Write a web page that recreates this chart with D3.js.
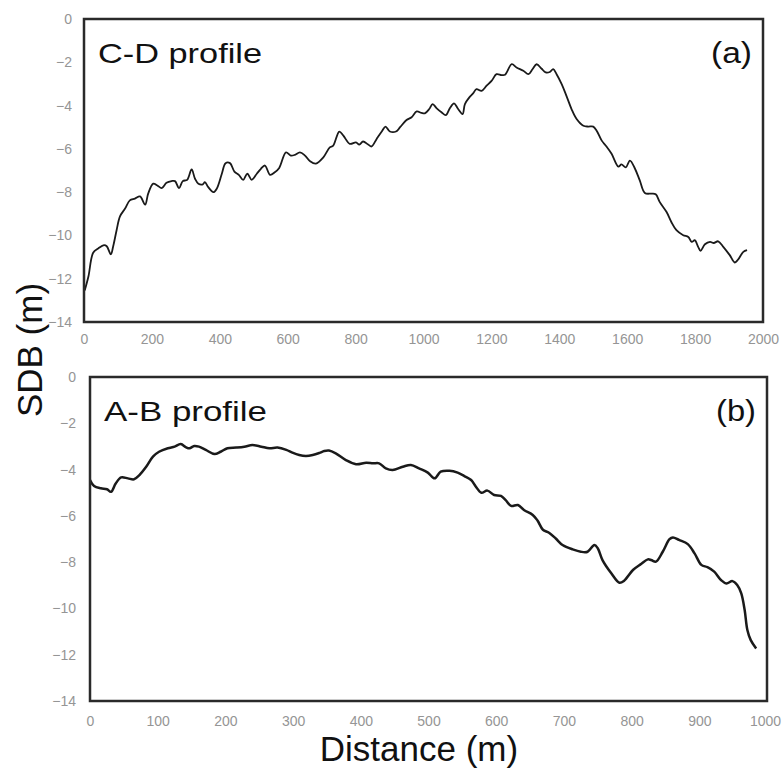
<!DOCTYPE html>
<html>
<head>
<meta charset="utf-8">
<script src="https://cdn.jsdelivr.net/npm/d3@7"></script>
<style>
  html, body { margin: 0; padding: 0; background: #fff; }
  svg { display: block; }
</style>
</head>
<body>
<svg id="chart" width="782" height="770"></svg>
<script>
// C-D profile: distance along the transect (m) and satellite-derived bathymetry (m)
const cdDistance = [2,13,27,42,59,67,79,86,96,106,121,135,150,165,180,189,204,216,229,243,258,268,280,291,304,317,327,337,350,356,366,381,391,406,417,430,443,456,469,481,494,509,521,533,548,562,575,595,609,621,636,651,666,683,705,724,734,752,764,783,801,811,822,837,847,862,877,888,901,919,931,950,965,980,994,1004,1017,1027,1039,1053,1066,1078,1090,1102,1115,1122,1135,1146,1156,1171,1186,1201,1215,1230,1240,1260,1274,1294,1309,1321,1333,1348,1360,1372,1382,1392,1407,1421,1436,1451,1471,1485,1500,1510,1525,1539,1554,1574,1583,1596,1608,1623,1637,1652,1672,1684,1696,1716,1730,1745,1765,1780,1790,1799,1809,1816,1829,1844,1855,1868,1883,1902,1917,1927,1942,1953];
const cdDepth = [-12.55,-11.9,-10.8,-10.6,-10.45,-10.5,-10.87,-10.5,-9.76,-9.12,-8.76,-8.38,-8.3,-8.2,-8.58,-8.07,-7.61,-7.69,-7.81,-7.57,-7.49,-7.49,-7.81,-7.49,-7.43,-6.95,-7.38,-7.61,-7.64,-7.54,-7.77,-8.0,-7.84,-7.15,-6.66,-6.66,-7.05,-7.2,-7.43,-7.15,-7.43,-7.15,-6.92,-6.77,-7.2,-7.08,-6.88,-6.16,-6.31,-6.28,-6.16,-6.31,-6.57,-6.68,-6.39,-5.93,-5.85,-5.2,-5.39,-5.77,-5.7,-5.8,-5.66,-5.8,-5.89,-5.54,-5.2,-4.97,-5.2,-5.2,-5.0,-4.67,-4.54,-4.27,-4.34,-4.36,-4.16,-3.93,-4.13,-4.31,-4.44,-4.11,-3.9,-4.16,-4.39,-3.93,-3.62,-3.44,-3.24,-3.32,-3.08,-2.85,-2.55,-2.59,-2.58,-2.09,-2.24,-2.39,-2.55,-2.32,-2.09,-2.3,-2.47,-2.45,-2.32,-2.55,-3.01,-3.55,-4.16,-4.62,-4.93,-4.97,-4.97,-5.16,-5.62,-5.89,-6.23,-6.82,-6.72,-6.85,-6.54,-6.92,-7.46,-8.04,-8.07,-8.1,-8.46,-8.92,-9.38,-9.76,-9.99,-10.07,-10.3,-10.22,-10.53,-10.71,-10.41,-10.3,-10.35,-10.27,-10.53,-10.91,-11.25,-11.11,-10.76,-10.68];

// A-B profile
const abDistance = [0,6,16,25,31,38,46,56,65,73,83,93,102,115,125,134,142,147,154,161,171,184,193,203,216,228,240,253,265,277,290,299,309,319,329,339,346,353,363,378,393,408,418,427,437,447,462,474,486,499,509,518,531,543,553,563,570,578,587,597,607,614,622,632,641,654,661,669,678,688,698,713,725,735,745,750,757,770,782,789,802,814,824,829,836,846,856,861,870,883,893,903,912,922,932,940,949,956,962,967,971,976,984];
const abDepth = [-4.45,-4.71,-4.81,-4.85,-4.96,-4.6,-4.34,-4.38,-4.42,-4.24,-3.88,-3.44,-3.23,-3.08,-3.01,-2.9,-3.04,-3.08,-2.98,-3.01,-3.15,-3.33,-3.23,-3.08,-3.05,-3.01,-2.94,-3.01,-3.08,-3.05,-3.15,-3.27,-3.37,-3.41,-3.37,-3.28,-3.2,-3.18,-3.3,-3.59,-3.77,-3.7,-3.73,-3.73,-3.95,-4.02,-3.88,-3.8,-3.95,-4.13,-4.38,-4.09,-4.05,-4.13,-4.28,-4.45,-4.74,-5.0,-4.91,-5.1,-5.14,-5.32,-5.57,-5.53,-5.75,-5.96,-6.2,-6.6,-6.73,-6.98,-7.26,-7.45,-7.55,-7.55,-7.26,-7.4,-7.91,-8.48,-8.89,-8.8,-8.34,-8.08,-7.88,-7.91,-7.98,-7.55,-7.01,-6.93,-7.04,-7.22,-7.62,-8.12,-8.22,-8.41,-8.77,-8.92,-8.82,-8.99,-9.35,-10.07,-10.93,-11.37,-11.73];

// Axis ticks
const depthTicks = [0, -2, -4, -6, -8, -10, -12, -14];
const cdDistanceTicks = [0, 200, 400, 600, 800, 1000, 1200, 1400, 1600, 1800, 2000];
const abDistanceTicks = [0, 100, 200, 300, 400, 500, 600, 700, 800, 900, 1000];

const svg = d3.select("#chart");
const fontFamily = "'Liberation Sans', Arial, sans-serif";

function styleTicks(g, xShiftLast) {
  g.select(".domain").remove();
  g.selectAll(".tick text")
    .attr("font-family", fontFamily)
    .attr("font-size", 14)
    .attr("fill", "#959595");
  if (xShiftLast) {
    g.selectAll(".tick:last-of-type text").attr("x", -xShiftLast);
  }
}

function drawPanel(opts) {
  const { left, right, top, bottom, xMax, xTicks, xs, ys, title, tag,
          titleWidth, tagWidth, yPad, xPad, lineWidth } = opts;
  const x = d3.scaleLinear().domain([0, xMax]).range([left, right]);
  const y = d3.scaleLinear().domain([-14, 0]).range([bottom, top]);

  svg.append("g")
    .attr("transform", `translate(${left},0)`)
    .call(d3.axisLeft(y).tickValues(depthTicks).tickSize(0).tickPadding(yPad).tickFormat(d3.format("d")))
    .call(styleTicks, 0);

  svg.append("g")
    .attr("transform", `translate(0,${bottom})`)
    .call(d3.axisBottom(x).tickValues(xTicks).tickSize(0).tickPadding(xPad).tickFormat(d3.format("d")))
    .call(styleTicks, 782 - right < 17 ? 17 - (782 - right) : 0);

  const line = d3.line()
    .x((d, i) => x(xs[i]))
    .y((d, i) => y(ys[i]))
    .curve(d3.curveCatmullRom.alpha(0.5));

  svg.append("path")
    .datum(xs)
    .attr("d", line)
    .attr("fill", "none")
    .attr("stroke", "#1a1a1a")
    .attr("stroke-width", lineWidth)
    .attr("stroke-linejoin", "round");

  svg.append("rect")
    .attr("x", left).attr("y", top)
    .attr("width", right - left).attr("height", bottom - top)
    .attr("fill", "none")
    .attr("stroke", "#2a2a2a")
    .attr("stroke-width", 2.5);

  svg.append("text")
    .attr("x", left + 14).attr("y", top + 44)
    .attr("font-family", fontFamily).attr("font-size", 28)
    .attr("fill", "#111")
    .attr("textLength", titleWidth).attr("lengthAdjust", "spacingAndGlyphs")
    .text(title);

  svg.append("text")
    .attr("x", right - 11).attr("y", top + 44)
    .attr("text-anchor", "end")
    .attr("font-family", fontFamily).attr("font-size", 29)
    .attr("fill", "#111")
    .attr("textLength", tagWidth).attr("lengthAdjust", "spacingAndGlyphs")
    .text(tag);
}

drawPanel({
  left: 84, right: 763, top: 19, bottom: 322, xMax: 2000,
  xTicks: cdDistanceTicks, xs: cdDistance, ys: cdDepth,
  title: "C-D profile", tag: "(a)", titleWidth: 164, tagWidth: 41,
  yPad: 12, xPad: 12, lineWidth: 1.8
});

drawPanel({
  left: 90, right: 767, top: 377, bottom: 701, xMax: 1000,
  xTicks: abDistanceTicks, xs: abDistance, ys: abDepth,
  title: "A-B profile", tag: "(b)", titleWidth: 163, tagWidth: 40,
  yPad: 14, xPad: 15, lineWidth: 2.5
});

// Shared axis titles
svg.append("text")
  .attr("transform", "translate(42,350) rotate(-90)")
  .attr("text-anchor", "middle")
  .attr("font-family", fontFamily).attr("font-size", 35)
  .attr("fill", "#111")
  .text("SDB (m)");

svg.append("text")
  .attr("x", 419).attr("y", 761)
  .attr("text-anchor", "middle")
  .attr("font-family", fontFamily).attr("font-size", 35)
  .attr("fill", "#111")
  .text("Distance (m)");
</script>
</body>
</html>
